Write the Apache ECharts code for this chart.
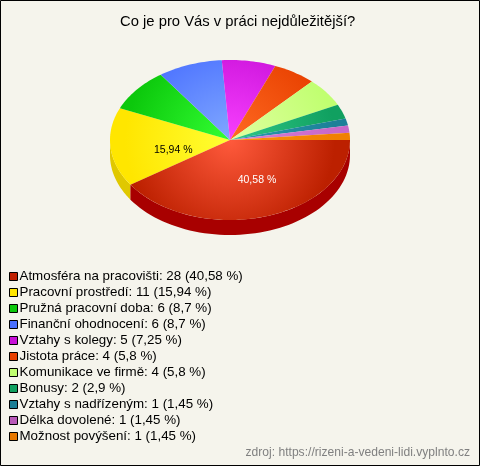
<!DOCTYPE html>
<html><head><meta charset="utf-8">
<style>html,body{margin:0;padding:0;background:#f5f4ec}#c{width:480px;height:466px}</style>
<script src="https://cdn.jsdelivr.net/npm/echarts@6/dist/echarts.min.js"></script>
</head><body><div id="c"></div>
<script>
const categories=["Atmosféra na pracovišti","Pracovní prostředí","Pružná pracovní doba","Finanční ohodnocení","Vztahy s kolegy","Jistota práce","Komunikace ve firmě","Bonusy","Vztahy s nadřízeným","Délka dovolené","Možnost povýšení"];
const counts=[28,11,6,6,5,4,4,2,1,1,1];
const percentLabels=["40,58","15,94","8,7","8,7","7,25","5,8","5,8","2,9","1,45","1,45","1,45"];
const swatchColors=["#c02000","#ffe600","#0cc80c","#4a70ff","#c810d8","#e84000","#c0ff70","#10a060","#1c7f96","#b858b8","#e87800"];
const innerColors=["#ff5a3c","#ffff33","#33ff33","#80a8ff","#f840ff","#ff6a22","#e0ffa0","#30c888","#2a9cb0","#d880d8","#ff9010"];
const outerColors=["#bc2000","#ffe600","#0cc80c","#4a70ff","#c810d8","#e84000","#c0ff70","#10a060","#1c8098","#c868c8","#f08000"];
const sideColors=["#a80000","#e0c800","#0aa00a","#3a58c8","#a00cac","#b83000","#98cc58","#0c804c","#166478","#a050a0","#c06000"];
const total=counts.reduce((a,b)=>a+b,0);
const CX=230,CY=140,RX=120,RY=80,DEPTH=15;

function slice(i){
  return function(params,api){
    let before=0;for(let k=0;k<i;k++)before+=counts[k];
    const a0=before/total*Math.PI*2,a1=(before+counts[i])/total*Math.PI*2;
    const children=[];
    const pt=(a,dy)=>[CX+RX*Math.cos(a),CY+RY*Math.sin(a)+(dy||0)];
    const s0=Math.max(a0,0),s1=Math.min(a1,Math.PI);
    if(s1>s0){
      const pts=[];const n=60;
      for(let k=0;k<=n;k++)pts.push(pt(s0+(s1-s0)*k/n));
      for(let k=n;k>=0;k--)pts.push(pt(s0+(s1-s0)*k/n,DEPTH));
      children.push({type:'polygon',shape:{points:pts},style:{fill:sideColors[i]},z2:1});
    }
    const top=[[CX,CY]];const m=Math.max(8,Math.ceil((a1-a0)*40));
    for(let k=0;k<=m;k++)top.push(pt(a0+(a1-a0)*k/m));
    children.push({type:'polygon',shape:{points:top},style:{
      fill:{type:'radial',global:true,x:CX,y:CY,r:105,colorStops:[{offset:0,color:innerColors[i]},{offset:1,color:outerColors[i]}]},
      stroke:null},z2:2});
    if(counts[i]/total>0.1){
      const mid=(a0+a1)/2;
      children.push({type:'text',x:CX+65*Math.cos(mid)+8,y:CY+34.5*Math.sin(mid)+7,z2:5,
        style:{text:percentLabels[i]+' %',fill:i===0?'#ffffff':'#000000',font:'10.5px "Liberation Sans"',align:'center',verticalAlign:'middle'}});
    }
    return {type:'group',children};
  };
}
const series=categories.map((name,i)=>({
  type:'custom',name:name,coordinateSystem:'none',
  data:[counts[i]],renderItem:slice(i),
  itemStyle:{color:swatchColors[i]},silent:true,animation:false,z:i===0?3:2,
  encode:{value:0}
}));
const labelOf={};categories.forEach((c,i)=>labelOf[c]=c+': '+counts[i]+' ('+percentLabels[i]+' %)');
const chart=echarts.init(document.getElementById('c'),null,{renderer:'canvas'});
chart.setOption({
  animation:false,backgroundColor:'#f5f4ec',
  title:{text:'Co je pro Vás v práci nejdůležitější?',left:115,top:9,
    textStyle:{fontFamily:'Liberation Sans',fontSize:14.8,fontWeight:'normal',color:'#000'}},
  legend:{orient:'vertical',left:4,top:264,height:190,padding:[5,5,5,5],itemWidth:8,itemHeight:8,itemGap:1,selectedMode:false,icon:'rect',
    data:categories,formatter:n=>labelOf[n],
    itemStyle:{borderColor:'#000',borderWidth:1},
    textStyle:{fontFamily:'Liberation Sans',fontSize:13.35,color:'#000',padding:[0,0,0,-3],height:15,lineHeight:15}},
  graphic:[
    {type:'text',right:10,top:447,style:{text:'zdroj: https://rizeni-a-vedeni-lidi.vyplnto.cz',fill:'#808080',font:'12.1px "Liberation Sans"'}},
    {type:'rect',shape:{x:0.5,y:0.5,width:479,height:465},style:{fill:null,stroke:'#000',lineWidth:1},z:100}
  ],
  series:series
});
</script></body></html>
